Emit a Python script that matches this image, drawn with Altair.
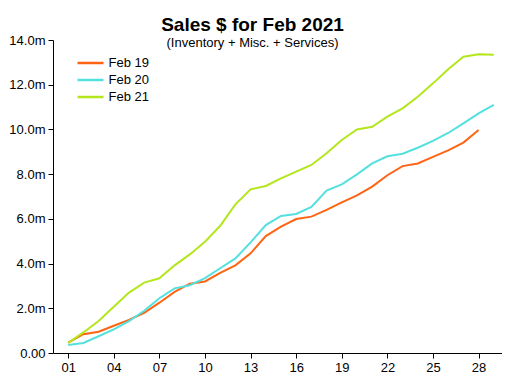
import altair as alt
import pandas as pd

days = list(range(1, 30))
feb19 = [0.46, 0.84, 0.95, 1.22, 1.48, 1.80, 2.25, 2.73, 3.10, 3.20, 3.58, 3.92, 4.46,
         5.23, 5.65, 5.99, 6.10, 6.40, 6.74, 7.05, 7.44, 7.95, 8.36, 8.48, 8.77, 9.06,
         9.41, 9.97]
feb20 = [0.36, 0.45, 0.75, 1.06, 1.43, 1.89, 2.45, 2.89, 3.03, 3.35, 3.79, 4.23, 4.95,
         5.72, 6.13, 6.22, 6.53, 7.26, 7.54, 7.99, 8.48, 8.80, 8.91, 9.18, 9.49, 9.84,
         10.27, 10.72, 11.10]
feb21 = [0.45, 0.92, 1.43, 2.07, 2.70, 3.15, 3.34, 3.92, 4.41, 4.98, 5.69, 6.65, 7.32,
         7.47, 7.81, 8.11, 8.41, 8.93, 9.53, 10.00, 10.12, 10.57, 10.94, 11.46, 12.06,
         12.69, 13.25, 13.36, 13.34]
series_names = ["Feb 19", "Feb 20", "Feb 21"]
series_colors = ["#FF6414", "#55E0E0", "#B4E61E"]
x_ticks = [1, 4, 7, 10, 13, 16, 19, 22, 25, 28]
y_ticks = [0, 2, 4, 6, 8, 10, 12, 14]

rows = []
for name, vals in zip(series_names, [feb19, feb20, feb21]):
    for d, v in zip(days, vals):
        rows.append({"day": d, "sales": v, "series": name})
df = pd.DataFrame(rows)

FONT = "Liberation Sans"

chart = alt.Chart(df).mark_line(strokeWidth=2).encode(
    x=alt.X("day:Q", scale=alt.Scale(domain=[0, 29.54], nice=False, zero=False),
            axis=alt.Axis(values=x_ticks, title=None, grid=False,
                          labelExpr="format(datum.value, '02d')",
                          domainColor="black", tickColor="black", tickSize=5,
                          labelColor="black", labelFont=FONT, labelFontSize=13,
                          labelPadding=3)),
    y=alt.Y("sales:Q", scale=alt.Scale(domain=[0, 14], nice=False),
            axis=alt.Axis(values=y_ticks, title=None, grid=False,
                          labelExpr="datum.value == 0 ? '0.00' : format(datum.value, '.1f') + 'm'",
                          domainColor="black", tickColor="black", tickSize=5,
                          labelColor="black", labelFont=FONT, labelFontSize=13,
                          labelPadding=3)),
    color=alt.Color("series:N",
                    scale=alt.Scale(domain=series_names, range=series_colors),
                    legend=alt.Legend(title=None, orient="none", legendX=29.5, legendY=15,
                                      symbolType="M-2,0H2", symbolSize=169,
                                      symbolStrokeWidth=2.5, labelFont=FONT,
                                      labelFontSize=13, labelColor="black",
                                      labelOffset=10, rowPadding=2, padding=0)),
).properties(
    width=449,
    height=313,
    autosize=alt.AutoSizeParams(type="none"),
    padding={"left": 45, "top": 32, "right": 0, "bottom": 21},
    title=alt.TitleParams(
        text="Sales $ for Feb 2021",
        subtitle="(Inventory + Misc. + Services)",
        font=FONT, fontSize=19, fontWeight="bold", color="black",
        subtitleFont=FONT, subtitleFontSize=13, subtitleColor="black",
        subtitlePadding=2,
        anchor="middle", dx=-25, offset=-16,
    ),
).configure_view(stroke=None)

chart.save("out.html", embed_options={"renderer": "svg", "actions": False})
